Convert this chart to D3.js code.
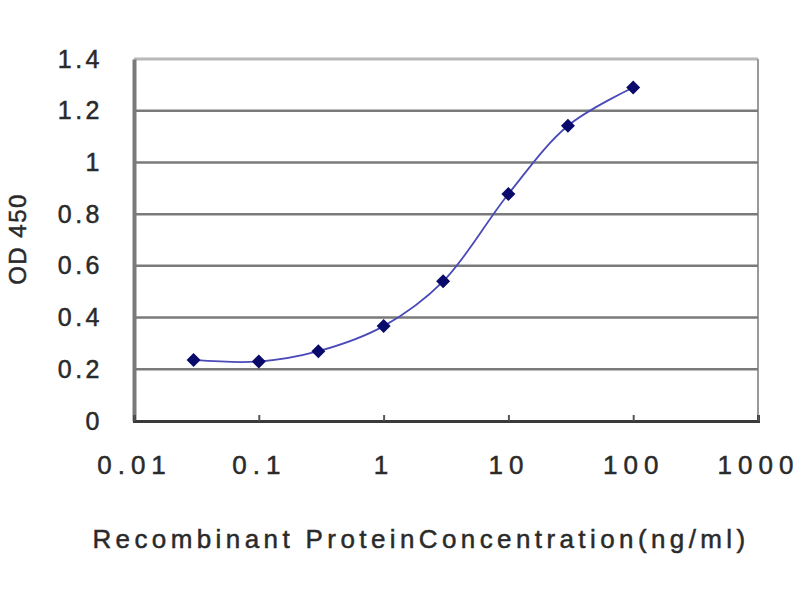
<!DOCTYPE html>
<html>
<head>
<meta charset="utf-8">
<script src="https://d3js.org/d3.v7.min.js"></script>
<style>
  body { margin: 0; background: #fff; }
  text { font-family: "Liberation Sans", Arial, sans-serif; fill: #2a2a2a; }
</style>
</head>
<body>
<svg id="chart"></svg>
<script>
// concentration (ng/ml) and OD 450 readings
const concentrations = [0.03, 0.1, 0.3, 1, 3, 10, 30, 100];
const odValues = [0.236, 0.230, 0.270, 0.367, 0.540, 0.878, 1.142, 1.290];
const xTicks = [0.01, 0.1, 1, 10, 100, 1000];
const xTickLabels = ["0.01", "0.1", "1", "10", "100", "1000"];
const yTicks = [0, 0.2, 0.4, 0.6, 0.8, 1, 1.2, 1.4];

const width = 800, height = 600;
const margin = { top: 59, right: 42, bottom: 179, left: 134 };
const innerW = width - margin.left - margin.right;
const innerH = height - margin.top - margin.bottom;

const svg = d3.select("#chart")
    .attr("width", width)
    .attr("height", height);

const chart = svg.append("g")
    .attr("transform", `translate(${margin.left},${margin.top})`);

const xScale = d3.scaleLog().domain([0.01, 1000]).range([0, innerW]);
const yScale = d3.scaleLinear().domain([0, 1.4]).range([innerH, 0]);

// plot border (top + right)
chart.append("line")
    .attr("x1", 0).attr("x2", innerW).attr("y1", 0).attr("y2", 0)
    .attr("stroke", "#b8b8b8").attr("stroke-width", 3);
chart.append("line")
    .attr("x1", innerW).attr("x2", innerW).attr("y1", 0).attr("y2", innerH)
    .attr("stroke", "#9a9a9a").attr("stroke-width", 2);

// gridlines
chart.selectAll(".grid")
    .data(yTicks.filter(d => d > 0 && d < 1.4))
    .join("line")
    .attr("class", "grid")
    .attr("x1", 0).attr("x2", innerW)
    .attr("y1", d => yScale(d)).attr("y2", d => yScale(d))
    .attr("stroke", "#7a7a7a").attr("stroke-width", 2.5);

// y axis
const yAxis = d3.axisLeft(yScale).tickValues(yTicks).tickSize(0).tickPadding(31)
    .tickFormat(d => d3.format("~g")(d));
const yAxisG = chart.append("g").call(yAxis);
yAxisG.select(".domain").attr("stroke", "#7a7a7a").attr("stroke-width", 4);
yAxisG.selectAll("text")
    .attr("font-size", 25)
    .attr("letter-spacing", 3.5)
    .attr("stroke", "#2a2a2a").attr("stroke-width", 0.5)
    .attr("fill", "#2a2a2a");

// x axis
const xAxis = d3.axisBottom(xScale).tickValues(xTicks).tickSize(-6).tickPadding(35)
    .tickFormat((d, i) => xTickLabels[i]);
const xAxisG = chart.append("g")
    .attr("transform", `translate(0,${innerH})`)
    .call(xAxis);
xAxisG.select(".domain").attr("stroke", "#3a3a3a").attr("stroke-width", 3);
xAxisG.selectAll(".tick line").attr("stroke", "#555").attr("stroke-width", 2);
xAxisG.selectAll("text")
    .attr("font-size", 26)
    .attr("letter-spacing", 6)
    .attr("stroke", "#2a2a2a").attr("stroke-width", 0.5)
    .attr("fill", "#2a2a2a");

// series line
const points = concentrations.map((c, i) => ({ x: c, y: odValues[i] }));
const line = d3.line()
    .x(d => xScale(d.x))
    .y(d => yScale(d.y))
    .curve(d3.curveCatmullRom.alpha(0.5));

chart.append("path")
    .datum(points)
    .attr("fill", "none")
    .attr("stroke", "#4a4ab8")
    .attr("stroke-width", 1.8)
    .attr("d", line);

// diamond markers
chart.selectAll(".marker")
    .data(points)
    .join("path")
    .attr("class", "marker")
    .attr("transform", d => `translate(${xScale(d.x)},${yScale(d.y)})`)
    .attr("d", "M0,-7L7,0L0,7L-7,0Z")
    .attr("fill", "#0a0a6a");

// axis titles
svg.append("text")
    .attr("x", 421)
    .attr("y", 548)
    .attr("text-anchor", "middle")
    .attr("font-size", 26)
    .attr("letter-spacing", 4.4)
    .attr("stroke", "#2a2a2a").attr("stroke-width", 0.5)
    .text("Recombinant ProteinConcentration(ng/ml)");

svg.append("text")
    .attr("transform", "translate(26,239) rotate(-90)")
    .attr("text-anchor", "middle")
    .attr("font-size", 24)
    .attr("letter-spacing", 1.5)
    .attr("stroke", "#2a2a2a").attr("stroke-width", 0.5)
    .text("OD 450");
</script>
</body>
</html>
